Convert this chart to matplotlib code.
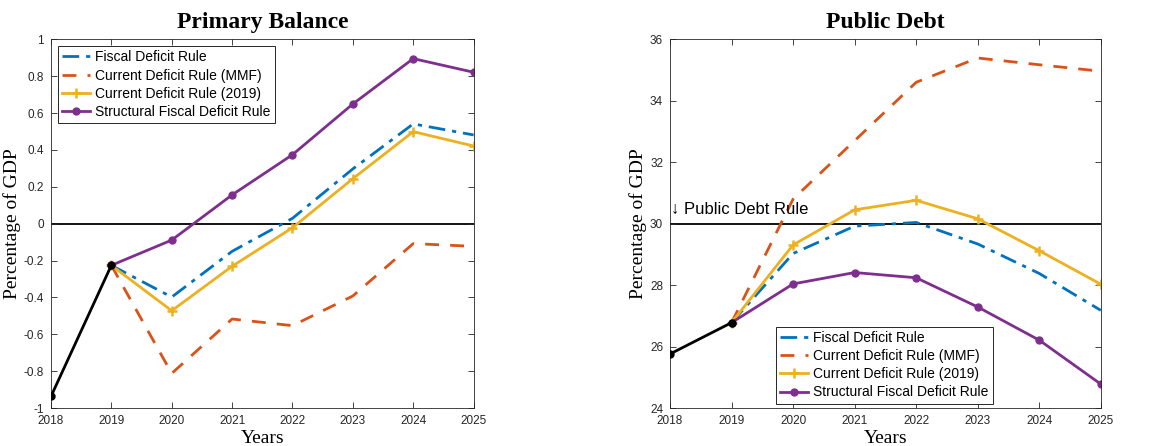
import matplotlib.pyplot as plt
import numpy as np

years = [2018, 2019, 2020, 2021, 2022, 2023, 2024, 2025]
proj_years = years[1:]
hist_years = years[:2]

# primary balance (% of GDP)
pb_hist = [-0.937, -0.226]
pb_fiscal = [-0.226, -0.398, -0.150, 0.029, 0.297, 0.541, 0.481]
pb_mmf = [-0.226, -0.812, -0.517, -0.553, -0.392, -0.108, -0.123]
pb_2019 = [-0.226, -0.472, -0.231, -0.022, 0.244, 0.499, 0.421]
pb_struct = [-0.226, -0.089, 0.156, 0.374, 0.649, 0.895, 0.821]

# public debt (% of GDP)
debt_hist = [25.76, 26.78]
debt_fiscal = [26.78, 29.03, 29.92, 30.04, 29.34, 28.38, 27.18]
debt_mmf = [26.78, 30.80, 32.70, 34.60, 35.39, 35.17, 34.96]
debt_2019 = [26.78, 29.31, 30.45, 30.76, 30.16, 29.12, 28.03]
debt_struct = [26.78, 28.04, 28.41, 28.24, 27.29, 26.21, 24.78]
debt_rule = 30

labels = ["Fiscal Deficit Rule", "Current Deficit Rule (MMF)",
          "Current Deficit Rule (2019)", "Structural Fiscal Deficit Rule"]
colors = ["#0072BD", "#D95319", "#EDB120", "#7E2F8E"]

serif = ["Times New Roman", "Liberation Serif", "DejaVu Serif"]
plt.rcParams["font.family"] = ["Liberation Sans", "DejaVu Sans"]


def fmt_tick(t):
    t = round(float(t), 6)
    return "0" if t == 0 else f"{t:g}"


def draw(ax, hist, series, ref, title, ylim, yticks, legend_loc):
    ax.axhline(ref, color="black", lw=1.3, zorder=1)
    ax.plot(hist_years, hist, color="black", lw=2, marker="o", ms=5, zorder=5)
    ax.plot(proj_years, series[0], color=colors[0], lw=2, ls=(0, (6, 2.5, 1.5, 2.5)), label=labels[0])
    ax.plot(proj_years, series[1], color=colors[1], lw=2, ls=(0, (5, 4)), label=labels[1])
    ax.plot(proj_years, series[2], color=colors[2], lw=2, marker="+", ms=7, mew=1.8, label=labels[2])
    ax.plot(proj_years, series[3], color=colors[3], lw=2, marker="o", ms=5, label=labels[3])
    ax.set_xlim(2018, 2025)
    ax.set_ylim(*ylim)
    ax.set_xticks(years)
    ax.set_yticks(yticks)
    ax.set_yticklabels([fmt_tick(t) for t in yticks])
    ax.tick_params(direction="in", top=True, right=True, labelsize=8.5, colors="#262626",
                   length=4, width=0.6, pad=5)
    for s in ax.spines.values():
        s.set_linewidth(0.6)
        s.set_color("#262626")
    ax.set_title(title, fontsize=17, fontweight="bold", family=serif, pad=8)
    ax.set_xlabel("Years", fontsize=14, family=serif, labelpad=2)
    ax.set_ylabel("Percentage of GDP", fontsize=14, family=serif, labelpad=2)
    leg = ax.legend(loc=legend_loc, fontsize=10, fancybox=False, framealpha=1,
                    edgecolor="#262626", handlelength=2.0, borderpad=0.3,
                    labelspacing=0.3, handletextpad=0.4, borderaxespad=0.5)
    leg.get_frame().set_linewidth(0.7)


fig = plt.figure(figsize=(11.58, 4.46), dpi=100)
ax1 = fig.add_axes([0.044, 0.085, 0.365, 0.827])
ax2 = fig.add_axes([0.5786, 0.085, 0.372, 0.827])

draw(ax1, pb_hist, [pb_fiscal, pb_mmf, pb_2019, pb_struct], 0, "Primary Balance",
     (-1, 1), np.round(np.arange(-1, 1.01, 0.2), 1), "upper left")
draw(ax2, debt_hist, [debt_fiscal, debt_mmf, debt_2019, debt_struct], debt_rule, "Public Debt",
     (24, 36), np.arange(24, 37, 2), (0.245, 0.012))
ax2.text(2018.02, 30.45, "\u2193 Public Debt Rule", fontsize=12, va="center", ha="left")

fig.savefig("out.png", dpi=100)
